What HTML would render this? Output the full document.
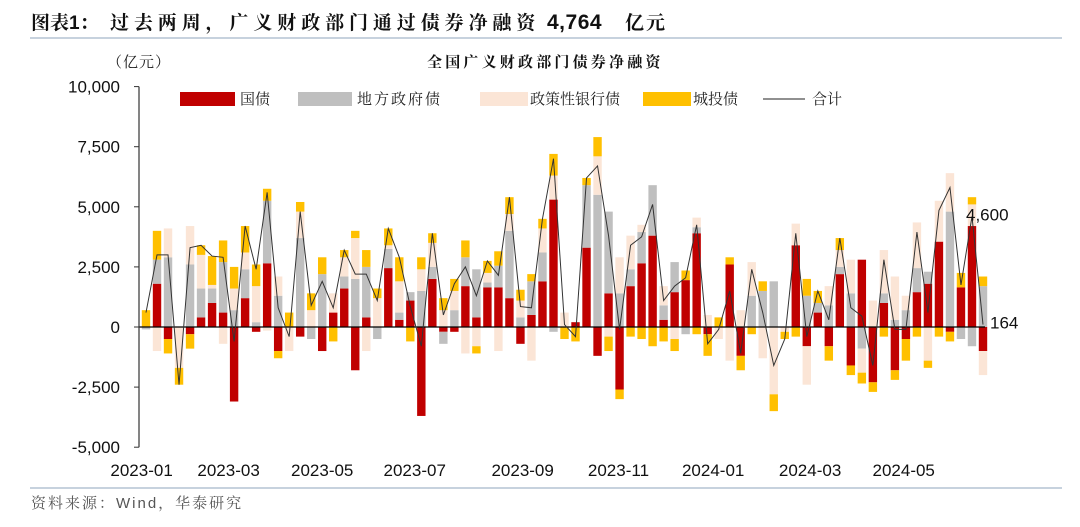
<!DOCTYPE html>
<html><head><meta charset="utf-8">
<style>
body{margin:0;background:#fff;width:1080px;height:522px;overflow:hidden;font-family:"Liberation Sans","Noto Serif CJK SC","Noto Sans CJK SC",sans-serif;}
svg text{font-family:"Liberation Sans","Noto Serif CJK SC","Noto Sans CJK SC",sans-serif;}
</style></head>
<body>
<svg id="chart" width="1080" height="522" viewBox="0 0 1080 522" xmlns="http://www.w3.org/2000/svg">
<text y="29" font-size="19" font-weight="bold" fill="#111"><tspan x="31">图表1：</tspan><tspan x="110" letter-spacing="4.9">过去两周，广义财政部门通过债券净融资</tspan><tspan x="547" font-size="21" letter-spacing="0.5">4,764</tspan><tspan x="625" letter-spacing="2">亿元</tspan></text>
<line x1="30" y1="38" x2="1062" y2="38" stroke="#8FA5BC" stroke-width="1"/>
<text x="107" y="67" font-size="15" letter-spacing="1" fill="#222">（亿元）</text>
<text x="427" y="67" font-size="15" font-weight="bold" letter-spacing="3.2" fill="#111">全国广义财政部门债券净融资</text>
<g>
<rect x="180" y="92" width="55" height="14" fill="#C00000"/>
<text x="240" y="104" font-size="15" fill="#222">国债</text>
<rect x="298" y="92" width="54" height="14" fill="#BFBFBF"/>
<text x="357" y="104" font-size="15" letter-spacing="2" fill="#222">地方政府债</text>
<rect x="480" y="92" width="48" height="14" fill="#FBE5D6"/>
<text x="530" y="104" font-size="15" fill="#222">政策性银行债</text>
<rect x="643" y="92" width="48" height="14" fill="#FFC000"/>
<text x="693" y="104" font-size="15" fill="#222">城投债</text>
<line x1="763" y1="99" x2="805" y2="99" stroke="#222" stroke-width="1"/>
<text x="812" y="104" font-size="15" fill="#222">合计</text>
</g>
<g id="plot"></g>
<line x1="30" y1="488" x2="1062" y2="488" stroke="#8FA5BC" stroke-width="1"/>
<text x="31" y="508" font-size="15" letter-spacing="2" fill="#555">资料来源：Wind，华泰研究</text>
</svg>
<script>
const gov =    [0,1800,-500,0,-300,400,1000,600,-3100,1200,-200,2650,-1000,0,-400,0,-1000,600,1600,
  -1800,400,0,2450,300,1100,-3700,2000,-200,-200,1700,400,1650,1650,1200,-700,500,1900,5300,
  0,200,3300,-1200,1400,-2600,1700,2650,3800,300,1450,1950,3900,-300,0,2600,-1200,0,0,0,
  0,3400,-800,600,-800,2200,-1600,2800,-2300,1000,-1800,-500,1450,1800,3550,-200,1650,4200,-1000];
const local =  [-100,1000,2900,0,2600,1200,600,2100,700,1200,200,2600,1300,0,3700,-500,2200,0,500,
  2000,2100,-500,800,300,350,1500,500,-500,700,1200,2000,200,900,2800,400,1400,1200,-200,
  0,0,2600,5500,3400,1400,700,1300,2100,600,1250,-300,250,0,0,0,0,1300,1500,1900,
  0,0,1300,400,900,300,1400,-900,0,400,300,700,1000,500,0,4800,-500,-800,1700];
const policy = [0,-1000,1200,-1700,1600,1400,150,-700,900,700,1500,-150,800,-1000,1100,700,0,800,800,
  1700,-1000,1200,150,1300,0,900,1000,700,800,-1100,-800,400,-1000,700,700,-1400,1000,1000,
  600,0,0,1600,-400,1500,1400,300,0,800,-500,0,400,500,-500,-1400,700,1400,-1300,-2800,
  -200,900,-1600,0,800,700,1400,-1000,1100,1800,1800,600,1900,-1400,1700,1600,0,900,-1000];
const chengtou=[700,1200,-600,-700,-600,400,1200,900,900,1100,900,500,-300,600,400,700,700,-600,300,
  300,700,400,700,1000,-600,500,400,500,500,700,-300,500,600,700,450,300,400,900,
  -500,-600,300,800,-600,-400,-400,-500,-800,-600,-500,400,-300,-900,400,300,-600,-300,400,-700,
  -300,-400,700,500,-600,500,-400,-450,-400,-400,-400,-900,-400,-300,-400,-400,600,300,400];
const yTicks = [-5000,-2500,0,2500,5000,7500,10000];
const yTickLabels = ["-5,000","-2,500","0","2,500","5,000","7,500","10,000"];
const xLabels = ["2023-01","2023-03","2023-05","2023-07","2023-09","2023-11","2024-01","2024-03","2024-05"];
const xLabelIdx = [-0.4,7.5,16,24.4,34.2,42.9,51.5,60.3,68.8];
const lastLabel = "4,600";
const endLabel = "164";

const NS="http://www.w3.org/2000/svg";
const plot=document.getElementById('plot');
const n=gov.length;
const x0=146, x1=983;
function xs(i){return x0+i*(x1-x0)/(n-1);}
function ys(v){return 327-v*0.02404;}
function mk(tag,attrs){const e=document.createElementNS(NS,tag);for(const k in attrs)e.setAttribute(k,attrs[k]);plot.appendChild(e);return e;}
const series=[[gov,'#C00000','gov'],[local,'#BFBFBF','local'],[policy,'#FBE5D6','policy'],[chengtou,'#FFC000','chengtou']];
const bw=8.4;
for(let i=0;i<n;i++){
  let pos=0,neg=0;
  for(const [arr,col,nm] of series){
    const v=arr[i]; if(!v) continue;
    let a,b;
    if(v>0){a=pos;b=pos+v;pos=b;} else {a=neg;b=neg+v;neg=b;}
    const r=mk('rect',{x:xs(i)-bw/2,y:Math.min(ys(a),ys(b)),width:bw,height:Math.abs(ys(a)-ys(b)),fill:col});
    
    
  }
}
const z=mk('line',{x1:139,x2:985,y1:ys(0),y2:ys(0),stroke:'#000','stroke-width':1.3});


const totals=gov.map((g,i)=>g+local[i]+policy[i]+chengtou[i]);
const pl=mk('polyline',{points:totals.map((t,i)=>xs(i)+','+ys(t)).join(' '),fill:'none',stroke:'#333','stroke-width':1});


const ya=mk('line',{x1:139,x2:139,y1:ys(10000),y2:ys(-5000),stroke:'#333','stroke-width':1.2});


yTicks.forEach((v,k)=>{
  const t=mk('line',{x1:134,x2:139,y1:ys(v),y2:ys(v),stroke:'#333','stroke-width':1});
  
  
  const l=mk('text',{x:120,y:ys(v)+6,'font-size':17,'text-anchor':'end',fill:'#111'});
  l.textContent=yTickLabels[k];
  
  
});
xLabels.forEach((s,k)=>{
  const l=mk('text',{x:xs(xLabelIdx[k]),y:476,'font-size':17,'text-anchor':'middle',fill:'#111'});
  l.textContent=s;
  
  
});
const a1=mk('text',{x:xs(n-2)-6,y:ys(totals[n-2])+4,'font-size':17,fill:'#111'});
a1.textContent=lastLabel;


const a2=mk('text',{x:990,y:ys(totals[n-1])+4,'font-size':17,fill:'#111'});
a2.textContent=endLabel;


</script>
</body></html>
